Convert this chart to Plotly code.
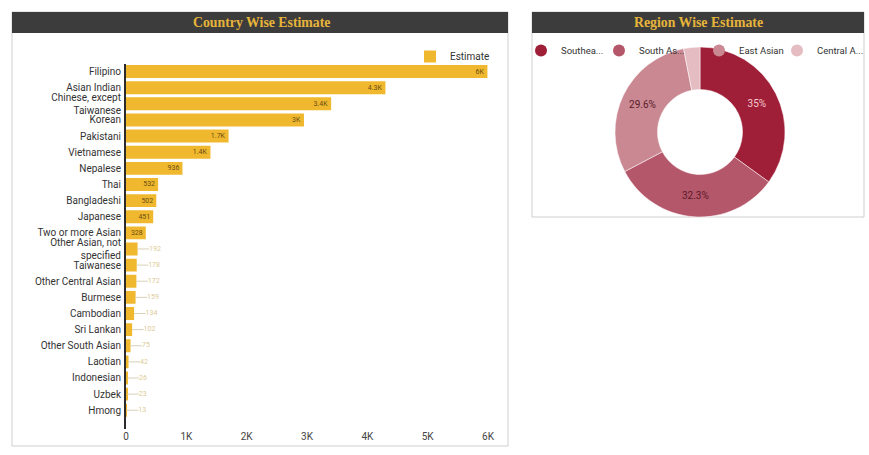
import plotly.graph_objects as go

W, H = 869, 455

countries = ["Filipino", "Asian Indian", "Chinese, except<br>Taiwanese", "Korean", "Pakistani",
             "Vietnamese", "Nepalese", "Thai", "Bangladeshi", "Japanese", "Two or more Asian",
             "Other Asian, not<br>specified", "Taiwanese", "Other Central Asian", "Burmese",
             "Cambodian", "Sri Lankan", "Other South Asian", "Laotian", "Indonesian", "Uzbek", "Hmong"]
estimates = [5990, 4300, 3400, 2950, 1700, 1400, 936, 532, 502, 451, 328,
             192, 178, 172, 159, 134, 102, 75, 42, 26, 23, 13]
x_tickvals = [0, 1000, 2000, 3000, 4000, 5000, 6000]
x_ticktext = ["0", "1K", "2K", "3K", "4K", "5K", "6K"]

region_names = ["Southeast Asian", "South Asian", "East Asian", "Central Asian"]
region_legend = ["Southea...", "South As...", "East Asian", "Central A..."]
region_values = [35.0, 32.3, 29.6, 3.1]
region_colors = ["#a01f38", "#b5576a", "#ca8892", "#e5bcc2"]
region_text_colors = ["#f5c9cf", "#5a1b2a", "#5a1b2a", "#5a1b2a"]


def fmt(v):
    if v >= 1000:
        s = f"{v/1000:.1f}".rstrip("0").rstrip(".")
        return s + "K"
    return str(v)


def px(x):
    return x / W


def py(y):
    return 1 - y / H


THRESH = 300
LEADER = 190
inside_text = [fmt(v) if v >= THRESH else "" for v in estimates]
leader = [LEADER if v < THRESH else 0 for v in estimates]
small_idx = [i for i, v in enumerate(estimates) if v < THRESH]

BAR = "#f0b82e"

fig = go.Figure()
fig.add_trace(go.Bar(
    x=estimates, y=countries, orientation="h", name="Estimate",
    marker=dict(color=BAR, line=dict(width=0)),
    text=inside_text, textposition="inside", insidetextanchor="end",
    textangle=0, constraintext="none",
    textfont=dict(color="#6b4c12", size=7, family="Roboto"),
    error_x=dict(type="data", symmetric=False, array=leader, arrayminus=[0] * len(leader),
                 color="#d8d0b8", thickness=1, width=0),
    legend="legend", cliponaxis=False,
))
fig.add_trace(go.Scatter(
    x=[estimates[i] + LEADER for i in small_idx], y=[countries[i] for i in small_idx],
    mode="text", text=[fmt(estimates[i]) for i in small_idx], textposition="middle right",
    textfont=dict(color="#dccb95", size=7, family="Roboto"),
    showlegend=False, hoverinfo="skip", cliponaxis=False,
))

legend_x = [521, 599, 699, 777]
region_legend_ids = ["legend2", "legend3", "legend4", "legend5"]
for name, col, lid in zip(region_legend, region_colors, region_legend_ids):
    fig.add_trace(go.Scatter(
        x=[None], y=[None], mode="markers", name=name,
        marker=dict(color=col, size=11, symbol="circle"),
        legend=lid,
    ))

pie_text = [f"{v/sum(region_values)*100:.3g}%" if v / sum(region_values) > 0.05 else "" for v in region_values]
fig.add_trace(go.Pie(
    labels=region_legend, values=region_values, hovertext=region_names,
    sort=False, direction="clockwise", rotation=0, hole=0.5,
    marker=dict(colors=region_colors, line=dict(color="white", width=0.5)),
    text=pie_text, textinfo="text", textposition="inside",
    insidetextorientation="horizontal",
    textfont=dict(color=region_text_colors, size=10, family="Roboto"),
    showlegend=False,
    domain=dict(x=[px(613), px(787)], y=[py(217), py(47)]),
))

shapes = [
    dict(type="rect", xref="paper", yref="paper", x0=px(12), x1=px(508), y0=py(446), y1=py(12),
         line=dict(color="#cfcfcf", width=1), fillcolor="white", layer="below"),
    dict(type="rect", xref="paper", yref="paper", x0=px(12), x1=px(508), y0=py(33), y1=py(12),
         line=dict(width=0), fillcolor="#3c3c3c", layer="below"),
    dict(type="rect", xref="paper", yref="paper", x0=px(532), x1=px(864), y0=py(217), y1=py(12),
         line=dict(color="#cfcfcf", width=1), fillcolor="white", layer="below"),
    dict(type="rect", xref="paper", yref="paper", x0=px(532), x1=px(864), y0=py(33), y1=py(12),
         line=dict(width=0), fillcolor="#3c3c3c", layer="below"),
]
title_font = dict(family="Liberation Serif", size=13.8, color="#e7b43a", weight="bold")
annotations = [
    dict(text="<b>Country Wise Estimate</b>", x=px(261), y=py(22.5), xref="paper", yref="paper",
         showarrow=False, font=title_font, xanchor="center", yanchor="middle"),
    dict(text="<b>Region Wise Estimate</b>", x=px(698), y=py(22.5), xref="paper", yref="paper",
         showarrow=False, font=title_font, xanchor="center", yanchor="middle"),
]

legend_common = dict(orientation="h", font=dict(size=9.5, color="#333"), bgcolor="rgba(0,0,0,0)",
                     xanchor="left", yanchor="top", itemsizing="constant")
layout_legends = {lid: dict(x=px(lx), y=py(36), **legend_common)
                  for lid, lx in zip(region_legend_ids, legend_x)}

fig.update_layout(
    width=W, height=H, margin=dict(l=0, r=0, t=0, b=0, pad=0, autoexpand=False),
    paper_bgcolor="white", plot_bgcolor="white",
    shapes=shapes, annotations=annotations,
    bargap=0.2,
    font=dict(family="Roboto", size=10, color="#333"),
    xaxis=dict(domain=[px(126), px(488)], range=[0, 6000], tickvals=x_tickvals, ticktext=x_ticktext,
               showgrid=False, zeroline=False, showline=False, ticks="",
               tickfont=dict(size=10, color="#444"), automargin=False),
    yaxis=dict(domain=[py(428.5), py(63.5)], autorange="reversed", showgrid=False,
               showline=True, linecolor="#2b2b2b", linewidth=2, ticks="",
               tickfont=dict(size=10, color="#333"), ticklabelstandoff=1, automargin=False),
    legend=dict(x=px(495), y=py(42), xanchor="right", yanchor="top", orientation="h",
                font=dict(size=10, color="#333"), bgcolor="rgba(0,0,0,0)", itemwidth=30),
    **layout_legends,
)

fig.write_html("out.html", config={"displayModeBar": False},
               post_script="document.body.style.margin='0';document.body.style.overflow='hidden';")
